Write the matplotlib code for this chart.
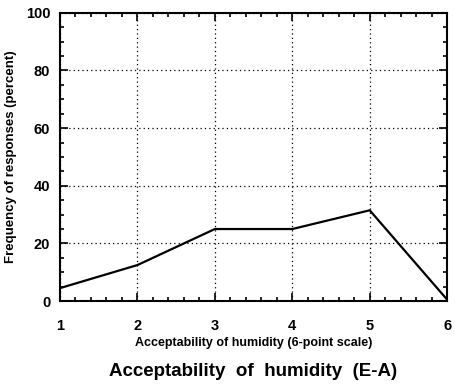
import numpy as np
import matplotlib.pyplot as plt
from matplotlib.ticker import MultipleLocator

plt.rcParams['font.family'] = ['Liberation Sans', 'DejaVu Sans']
plt.rcParams['font.weight'] = 'bold'

# acceptability scale points and response frequency (percent)
scale = [1, 2, 3, 4, 5, 6]
freq = [4.5, 12.5, 25, 25, 31.5, 0.5]

fig = plt.figure(figsize=(4.56, 3.89), dpi=100)
ax = fig.add_axes([0.1316, 0.226, 0.849, 0.741])

ax.plot(scale, freq, color='black', lw=1.6)

ax.set_xlim(1, 6)
ax.set_ylim(0, 100)
ax.xaxis.set_major_locator(MultipleLocator(1))
ax.xaxis.set_minor_locator(MultipleLocator(0.2))
ax.yaxis.set_major_locator(MultipleLocator(20))
ax.yaxis.set_minor_locator(MultipleLocator(5))

ax.tick_params(which='both', direction='in', top=True, right=True, width=1.2)
ax.tick_params(which='major', length=6, labelsize=10.5)
ax.tick_params(axis='x', which='major', pad=13)
ax.tick_params(axis='y', which='major', pad=7)
ax.tick_params(which='minor', length=3)
for lab in ax.get_xticklabels() + ax.get_yticklabels():
    lab.set_fontweight('bold')

ax.grid(True, which='major', color='black', ls=(0, (1, 2.5)), lw=0.9)
for s in ax.spines.values():
    s.set_linewidth(1.5)

ax.set_xlabel('Acceptability of humidity (6-point scale)', fontsize=9,
              fontweight='bold', labelpad=3)
ax.set_ylabel('Frequency of responses (percent)', fontsize=9.5,
              fontweight='bold', labelpad=6)
fig.text(0.555, 0.044, 'Acceptability  of  humidity  (E-A)', ha='center',
         va='center', fontsize=13.5, fontweight='bold')

fig.savefig('out.png', dpi=100)
